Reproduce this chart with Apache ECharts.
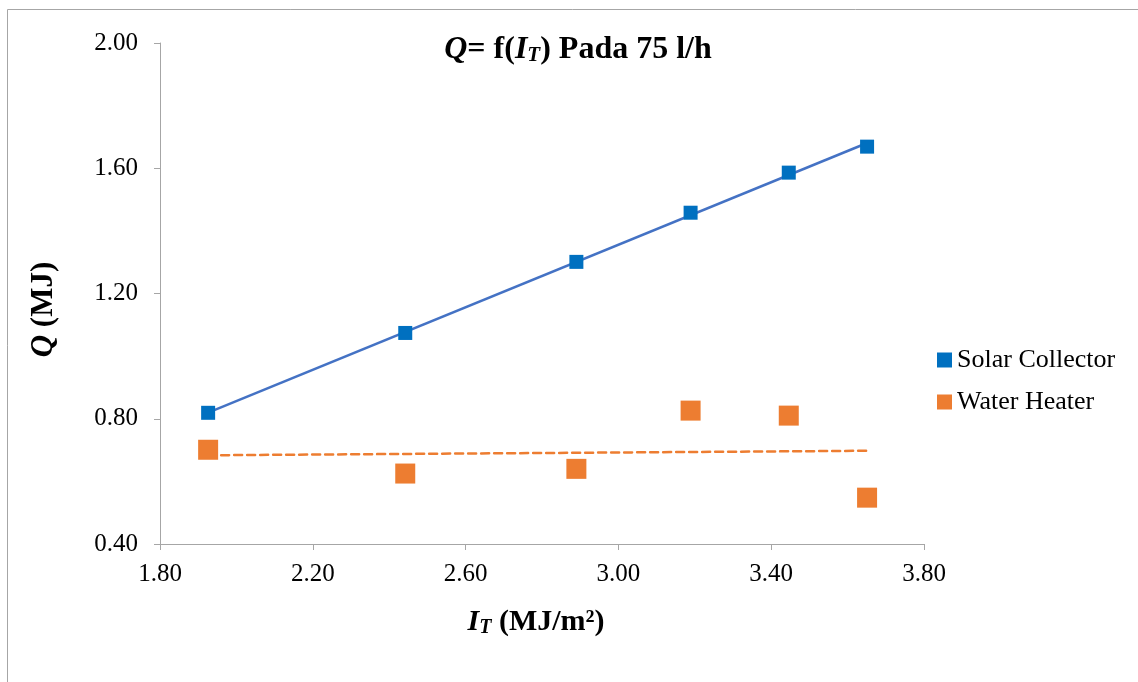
<!DOCTYPE html>
<html>
<head>
<meta charset="utf-8">
<script src="https://cdn.jsdelivr.net/npm/echarts@6/dist/echarts.min.js"></script>
<style>html,body{margin:0;padding:0;background:#fff}#c{width:1138px;height:682px}</style>
</head>
<body>
<div id="c"></div>
<script>
const irradiance = [1.926, 2.442, 2.890, 3.189, 3.446, 3.651];
const solarCollector = [0.819, 1.074, 1.301, 1.458, 1.586, 1.669];
const waterHeater = [0.701, 0.625, 0.640, 0.826, 0.810, 0.548];
const xTicks = [1.80, 2.20, 2.60, 3.00, 3.40, 3.80];
const yTicks = [0.40, 0.80, 1.20, 1.60, 2.00];

function fit(xs, ys) {
  const n = xs.length;
  const mx = xs.reduce((a, b) => a + b, 0) / n;
  const my = ys.reduce((a, b) => a + b, 0) / n;
  let sxy = 0, sxx = 0;
  for (let i = 0; i < n; i++) { sxy += (xs[i] - mx) * (ys[i] - my); sxx += (xs[i] - mx) ** 2; }
  const b = sxy / sxx, a = my - b * mx;
  const x0 = Math.min(...xs), x1 = Math.max(...xs);
  return [[x0, a + b * x0], [x1, a + b * x1]];
}
const pairs = (xs, ys) => xs.map((x, i) => [x, ys[i]]);

const font = 'Liberation Serif, Times New Roman, serif';
const chart = echarts.init(document.getElementById('c'));
chart.setOption({
  animation: false,
  textStyle: { fontFamily: font },
  title: {
    text: '{i|Q}{b|= f(}{i|I}{s|T}{b|) Pada 75 l/h}',
    left: 573, top: 28, textAlign: 'center',
    textStyle: {
      rich: {
        i: { fontFamily: font, fontSize: 32, fontWeight: 'bold', fontStyle: 'italic', color: '#000' },
        b: { fontFamily: font, fontSize: 32, fontWeight: 'bold', color: '#000' },
        s: { fontFamily: font, fontSize: 21, fontWeight: 'bold', fontStyle: 'italic', color: '#000', verticalAlign: 'bottom', padding: [12, 0, 0, 0] }
      }
    }
  },
  legend: {
    orient: 'vertical', left: 932, top: 342, itemGap: 16,
    itemWidth: 15, itemHeight: 15,
    textStyle: { fontFamily: font, fontSize: 26, color: '#000' },
    data: [
      { name: 'Solar Collector', icon: 'rect', itemStyle: { color: '#0070C0' } },
      { name: 'Water Heater', icon: 'rect', itemStyle: { color: '#ED7D31' } }
    ]
  },
  grid: { left: 160, right: 214, top: 43, bottom: 138 },
  xAxis: {
    type: 'value', min: 1.8, max: 3.8, interval: 0.4,
    axisLine: { show: true, lineStyle: { color: '#a6a6a6', width: 1 } },
    axisTick: { show: true, length: 6, lineStyle: { color: '#a6a6a6' } },
    splitLine: { show: false },
    axisLabel: { fontFamily: font, fontSize: 25, color: '#000', margin: 18, formatter: v => v.toFixed(2) },
    name: '{i|I}{s|T}{b| (MJ/m²)}', nameLocation: 'middle', nameGap: 62,
    nameTextStyle: {
      padding: [0, 12, 0, 0],
      rich: {
        i: { fontFamily: font, fontSize: 30, fontWeight: 'bold', fontStyle: 'italic', color: '#000' },
        b: { fontFamily: font, fontSize: 30, fontWeight: 'bold', color: '#000' },
        s: { fontFamily: font, fontSize: 20, fontWeight: 'bold', fontStyle: 'italic', color: '#000', verticalAlign: 'bottom', padding: [12, 0, 0, 0] }
      }
    }
  },
  yAxis: {
    type: 'value', min: 0.4, max: 2.0, interval: 0.4,
    axisLine: { show: true, lineStyle: { color: '#a6a6a6', width: 1 } },
    axisTick: { show: true, length: 6, lineStyle: { color: '#a6a6a6' } },
    splitLine: { show: false },
    axisLabel: { fontFamily: font, fontSize: 25, color: '#000', margin: 22, formatter: v => v.toFixed(2) },
    name: '{i|Q}{b| (MJ)}', nameLocation: 'middle', nameGap: 101, nameRotate: 90,
    nameTextStyle: {
      padding: [0, 32, 0, 0],
      rich: {
        i: { fontFamily: font, fontSize: 31, fontWeight: 'bold', fontStyle: 'italic', color: '#000' },
        b: { fontFamily: font, fontSize: 31, fontWeight: 'bold', color: '#000' }
      }
    }
  },
  graphic: [
    { type: 'line', shape: { x1: 7.5, y1: 9.5, x2: 1138, y2: 9.5 }, style: { stroke: '#a6a6a6', lineWidth: 1 } },
    { type: 'line', shape: { x1: 7.5, y1: 9.5, x2: 7.5, y2: 682 }, style: { stroke: '#a6a6a6', lineWidth: 1 } }
  ],
  series: [
    {
      name: 'Solar Collector trend', type: 'line', data: fit(irradiance, solarCollector),
      showSymbol: false, lineStyle: { color: '#4472C4', width: 2.5 }, silent: true, z: 1
    },
    {
      name: 'Water Heater trend', type: 'line', data: fit(irradiance, waterHeater),
      showSymbol: false, lineStyle: { color: '#ED7D31', width: 2.5, type: [8, 5], cap: 'round' }, silent: true, z: 1
    },
    {
      name: 'Solar Collector', type: 'scatter', data: pairs(irradiance, solarCollector),
      symbol: 'rect', symbolSize: 14, itemStyle: { color: '#0070C0', opacity: 1 }, z: 3
    },
    {
      name: 'Water Heater', type: 'scatter', data: pairs(irradiance, waterHeater),
      symbol: 'rect', symbolSize: 20, itemStyle: { color: '#ED7D31', opacity: 1 }, z: 3
    }
  ]
});
</script>
</body>
</html>
